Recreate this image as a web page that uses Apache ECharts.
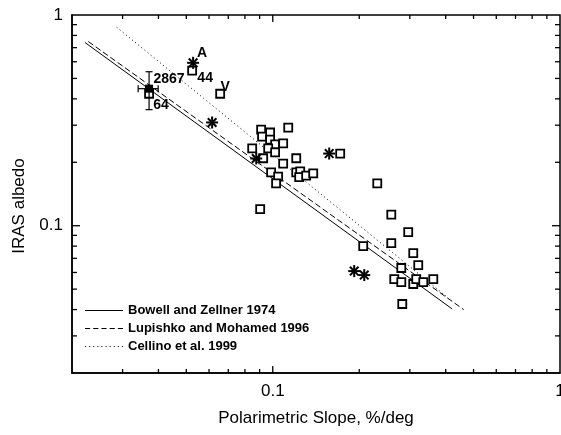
<!DOCTYPE html>
<html><head><meta charset="utf-8">
<script src="https://cdn.jsdelivr.net/npm/echarts@6/dist/echarts.min.js"></script>
<style>html,body{margin:0;padding:0;background:#fff}#c{width:561px;height:435px}</style>
</head><body><div id="c"></div><script>
const FONT = '"Liberation Sans", Arial, Helvetica, sans-serif';

// Axis ranges and ticks
const xRange = [0.02, 1];
const yRange = [0.02, 1];
const xLabelValues = [0.1, 1];
const xLabelTexts = ['0.1', '1'];
const yLabelValues = [0.1, 1];
const yLabelTexts = ['0.1', '1'];
const xMajorTicks = [0.1];
const yMajorTicks = [0.1];
const xMinorTicks = [0.03, 0.04, 0.05, 0.06, 0.07, 0.08, 0.09, 0.2, 0.3, 0.4, 0.5, 0.6, 0.7, 0.8, 0.9];
const yMinorTicks = [0.03, 0.04, 0.05, 0.06, 0.07, 0.08, 0.09, 0.2, 0.3, 0.4, 0.5, 0.6, 0.7, 0.8, 0.9];

// Open squares [slope, albedo]
const squarePoints = [
  [0.0524, 0.544], [0.0656, 0.423], [0.0371, 0.423],
  [0.0911, 0.286], [0.0979, 0.277], [0.1132, 0.292], [0.0918, 0.265], [0.0979, 0.256],
  [0.0848, 0.233], [0.1019, 0.243], [0.1087, 0.246], [0.0964, 0.233], [0.1019, 0.223],
  [0.0926, 0.209], [0.1087, 0.197], [0.1207, 0.209], [0.0987, 0.179], [0.1044, 0.171],
  [0.1027, 0.159], [0.1207, 0.179], [0.1246, 0.181], [0.1236, 0.170], [0.1307, 0.173],
  [0.1383, 0.177], [0.0904, 0.120], [0.1717, 0.220],
  [0.2311, 0.159], [0.2586, 0.113], [0.2962, 0.0932], [0.2065, 0.0800], [0.2586, 0.0827],
  [0.3084, 0.0741], [0.3210, 0.0650], [0.2802, 0.0630], [0.2649, 0.0558], [0.2802, 0.0540],
  [0.3084, 0.0529], [0.3159, 0.0558], [0.3342, 0.0540], [0.3621, 0.0558], [0.2824, 0.0425]
];

// Asterisks
const asteriskPoints = [
  [0.0528, 0.593], [0.0615, 0.309], [0.0876, 0.2085], [0.1572, 0.220],
  [0.1921, 0.0609], [0.2082, 0.0583]
];

// Filled reference point with error bars: [x, y, yLow, yHigh, xLow, xHigh]
const refPoint = [[0.0371, 0.447, 0.3555, 0.538, 0.0340, 0.0399]];

// Calibration lines (end points)
const bowellLine = [[0.0222, 0.740], [0.421, 0.0403]];
const lupishkoLine = [[0.0228, 0.748], [0.462, 0.0400]];
const cellinoLine = [[0.0286, 0.875], [0.404, 0.0459]];
const lineNames = ['Bowell and Zellner 1974', 'Lupishko and Mohamed 1996', 'Cellino et al. 1999'];

// Annotations
const annotationTexts = ['A', '44', 'V', '2867', '64'];
const annotationPoints = [[0.0528, 0.593], [0.0524, 0.544], [0.0656, 0.423], [0.0371, 0.447], [0.0371, 0.447]];
const annotationOffsets = [[9, -10], [13, 7], [5, -7], [20, -10], [12, 16]];

// Legend line-sample icons (solid, dashed, dotted)
function segIcon(len, gap, total) {
  let d = 'path://';
  for (let x = 0; x + len <= total + 0.01; x += len + gap) d += 'M' + x + ',0h' + len + 'v1h-' + len + 'Z';
  return d;
}
const legendIcons = [segIcon(38, 0, 38), segIcon(5, 3, 38), segIcon(1, 3, 38)];

function fmt(values, texts) {
  return function (v) {
    const i = values.findIndex(t => Math.abs(t - v) / t < 1e-6);
    return i >= 0 ? texts[i] : '';
  };
}

function tickSeries(axis, values, len) {
  return {
    type: 'custom', coordinateSystem: 'cartesian2d', silent: true, z: 6, clip: false,
    data: values.map(v => axis === 'x' ? [v, 0.1] : [0.1, v]),
    renderItem: function (params, api) {
      const cs = params.coordSys;
      const p = api.coord([api.value(0), api.value(1)]);
      const st = { stroke: '#000', lineWidth: 1.3 };
      if (axis === 'x') {
        const b = cs.y + cs.height, t = cs.y;
        return { type: 'group', children: [
          { type: 'line', shape: { x1: p[0], y1: b, x2: p[0], y2: b - len }, style: st },
          { type: 'line', shape: { x1: p[0], y1: t, x2: p[0], y2: t + len }, style: st }
        ]};
      } else {
        const l = cs.x, r = cs.x + cs.width;
        return { type: 'group', children: [
          { type: 'line', shape: { x1: l, y1: p[1], x2: l + len, y2: p[1] }, style: st },
          { type: 'line', shape: { x1: r, y1: p[1], x2: r - len, y2: p[1] }, style: st }
        ]};
      }
    }
  };
}

function fitLine(name, data, type) {
  return {
    name: name, type: 'line', data: data, symbol: 'none', showSymbol: false, z: 2,
    silent: true, animation: false,
    lineStyle: { color: '#000', width: 1, type: type },
    itemStyle: { color: '#000' }
  };
}

const chart = echarts.init(document.getElementById('c'), null, { renderer: 'canvas' });
chart.setOption({
  animation: false,
  backgroundColor: '#fff',
  grid: { left: 72, top: 15, right: 1, bottom: 62, outerBoundsMode: 'none', containLabel: false,
    show: true, borderColor: '#000', borderWidth: 1.5, backgroundColor: 'transparent' },
  legend: {
    data: lineNames.map((n, i) => ({ name: n, icon: legendIcons[i] })),
    orient: 'vertical', left: 85, top: 304, padding: 0,
    itemWidth: 38, itemHeight: 13, itemGap: 5,
    selectedMode: false,
    itemStyle: { color: '#000', borderWidth: 0 },
    textStyle: { fontFamily: FONT, fontSize: 13, fontWeight: 'bold', color: '#000' }
  },
  xAxis: {
    type: 'log', logBase: 10, min: xRange[0], max: xRange[1],
    name: 'Polarimetric Slope, %/deg', nameLocation: 'middle', nameGap: 37,
    nameTextStyle: { fontFamily: FONT, fontSize: 17, color: '#000' },
    axisLine: { show: true, lineStyle: { color: '#000', width: 1.5 } },
    axisTick: { show: false }, splitLine: { show: false }, minorTick: { show: false },
    axisLabel: { show: true, margin: 10, fontFamily: FONT, fontSize: 17, color: '#000',
      showMinLabel: true, showMaxLabel: true, formatter: fmt(xLabelValues, xLabelTexts) }
  },
  yAxis: {
    type: 'log', logBase: 10, min: yRange[0], max: yRange[1],
    name: 'IRAS albedo', nameLocation: 'middle', nameGap: 44,
    nameTextStyle: { fontFamily: FONT, fontSize: 17, color: '#000', padding: [0, 24, 0, 0] },
    axisLine: { show: true, lineStyle: { color: '#000', width: 1.5 } },
    axisTick: { show: false }, splitLine: { show: false }, minorTick: { show: false },
    axisLabel: { show: true, margin: 9, fontFamily: FONT, fontSize: 17, color: '#000',
      showMinLabel: true, showMaxLabel: true, formatter: fmt(yLabelValues, yLabelTexts) }
  },
  series: [
    fitLine(lineNames[0], bowellLine, 'solid'),
    fitLine(lineNames[1], lupishkoLine, [6, 3]),
    fitLine(lineNames[2], cellinoLine, [1, 3]),
    tickSeries('x', xMinorTicks, 4),
    tickSeries('x', xMajorTicks, 7),
    tickSeries('y', yMinorTicks, 5),
    tickSeries('y', yMajorTicks, 8),
    {
      name: 'squares', type: 'scatter', data: squarePoints, symbol: 'rect', symbolSize: 8, z: 3,
      itemStyle: { color: '#fff', borderColor: '#000', borderWidth: 1.8, opacity: 1 }
    },
    {
      name: 'errors', type: 'custom', coordinateSystem: 'cartesian2d', data: refPoint, z: 4,
      renderItem: function (params, api) {
        const c = api.coord([api.value(0), api.value(1)]);
        const lo = api.coord([api.value(0), api.value(2)]);
        const hi = api.coord([api.value(0), api.value(3)]);
        const xl = api.coord([api.value(4), api.value(1)]);
        const xh = api.coord([api.value(5), api.value(1)]);
        const st = { stroke: '#000', lineWidth: 1.2 };
        const cap = 3.5;
        return { type: 'group', children: [
          { type: 'line', shape: { x1: c[0], y1: lo[1], x2: c[0], y2: hi[1] }, style: st },
          { type: 'line', shape: { x1: c[0] - cap, y1: lo[1], x2: c[0] + cap, y2: lo[1] }, style: st },
          { type: 'line', shape: { x1: c[0] - cap, y1: hi[1], x2: c[0] + cap, y2: hi[1] }, style: st },
          { type: 'line', shape: { x1: xl[0], y1: c[1], x2: xh[0], y2: c[1] }, style: st },
          { type: 'line', shape: { x1: xl[0], y1: c[1] - cap, x2: xl[0], y2: c[1] + cap }, style: st },
          { type: 'line', shape: { x1: xh[0], y1: c[1] - cap, x2: xh[0], y2: c[1] + cap }, style: st },
          { type: 'rect', shape: { x: c[0] - 4, y: c[1] - 4, width: 8, height: 8 }, style: { fill: '#000' } }
        ]};
      }
    },
    {
      name: 'asterisks', type: 'custom', coordinateSystem: 'cartesian2d', data: asteriskPoints, z: 5,
      renderItem: function (params, api) {
        const c = api.coord([api.value(0), api.value(1)]);
        const r = 6, d = 4.3;
        const st = { stroke: '#000', lineWidth: 2 };
        return { type: 'group', children: [
          { type: 'line', shape: { x1: c[0], y1: c[1] - r, x2: c[0], y2: c[1] + r }, style: st },
          { type: 'line', shape: { x1: c[0] - r, y1: c[1], x2: c[0] + r, y2: c[1] }, style: st },
          { type: 'line', shape: { x1: c[0] - d, y1: c[1] - d, x2: c[0] + d, y2: c[1] + d }, style: st },
          { type: 'line', shape: { x1: c[0] - d, y1: c[1] + d, x2: c[0] + d, y2: c[1] - d }, style: st }
        ]};
      }
    },
    {
      name: 'labels', type: 'custom', coordinateSystem: 'cartesian2d', z: 7,
      data: annotationPoints.map((p, i) => [p[0], p[1], i]),
      renderItem: function (params, api) {
        const i = api.value(2);
        const c = api.coord([api.value(0), api.value(1)]);
        const o = annotationOffsets[i];
        return { type: 'text', x: c[0] + o[0], y: c[1] + o[1],
          style: { text: annotationTexts[i], fill: '#000', font: 'bold 14px ' + FONT,
            textAlign: 'center', textVerticalAlign: 'middle' } };
      }
    }
  ]
});
</script></body></html>
